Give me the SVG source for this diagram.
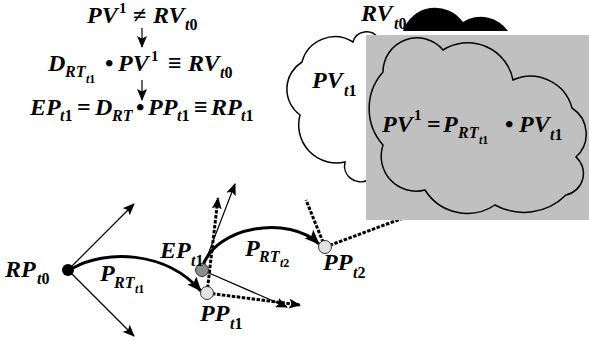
<svg xmlns="http://www.w3.org/2000/svg" width="589" height="341" viewBox="0 0 589 341">
<style>
text{font-family:"Liberation Serif","Times New Roman",serif;font-weight:bold;font-style:italic;font-size:24px;fill:#000}
.s{font-size:16px}
.ss{font-size:12px}
.sup{font-size:15px;font-style:normal}
.op{font-style:normal}
.n{font-style:normal}
.thin{fill:none;stroke:#000;stroke-width:1.2}
.thick{fill:none;stroke:#000;stroke-width:3}
.dash{fill:none;stroke:#000;stroke-width:3;stroke-dasharray:3.5 1.5}
.cloud{stroke:#000;stroke-width:1.5}
</style>
<defs>
<marker id="ah" markerUnits="userSpaceOnUse" markerWidth="12" markerHeight="10" refX="11" refY="5" orient="auto">
<path d="M0,0 L12,5 L0,10 L2.5,5 z" fill="#000"/>
</marker>
<marker id="ahL" markerUnits="userSpaceOnUse" markerWidth="15" markerHeight="12" refX="14" refY="6" orient="auto">
<path d="M0,0 L15,6 L0,12 L3,6 z" fill="#000"/>
</marker>
</defs>

<g id="formula-1">
<text x="87" y="23">PV</text><text class="sup" x="119" y="13">1</text><text class="op" x="133" y="23">≠</text><text x="153" y="23">RV</text><text class="s" x="185" y="30">t<tspan class="n">0</tspan></text>
</g>
<g id="formula-2">
<text x="48" y="71">D</text><text class="s" x="65" y="77">RT</text><text class="ss" x="86" y="83">t<tspan class="n">1</tspan></text><text class="op" x="105" y="71">•</text><text x="118" y="71">PV</text><text class="sup" x="151" y="61">1</text><text class="op" x="168" y="71">≡</text><text x="188" y="71">RV</text><text class="s" x="220" y="78">t<tspan class="n">0</tspan></text>
</g>
<g id="formula-3">
<text x="30" y="115">EP</text><text class="s" x="60" y="121">t<tspan class="n">1</tspan></text><text class="op" x="77" y="115">=</text><text x="95" y="115">D</text><text class="s" x="112" y="121">RT</text><text class="op" x="136" y="115">•</text><text x="148" y="115">PP</text><text class="s" x="177" y="121">t<tspan class="n">1</tspan></text><text class="op" x="194" y="115">≡</text><text x="211" y="115">RP</text><text class="s" x="241" y="121">t<tspan class="n">1</tspan></text>
</g>

<g id="rv-cloud">
<path d="M403,31 A34 34 0 0 1 463,22 A33 33 0 0 1 508,31 Z" fill="#000"/>
<text x="361" y="21">RV</text><text class="s" x="394" y="29">t<tspan class="n">0</tspan></text>
</g>

<g id="pv-t1-cloud">
<path class="cloud" fill="#fff" d="M368,180 A16 16 0 0 1 345,162 A38 38 0 0 1 300,115 A32 32 0 0 1 302,62 A34 34 0 0 1 353,42 A14 14 0 0 1 378,38 L400,100 L375,178 Z"/>
<text x="312" y="88">PV</text><text class="s" x="344" y="96">t<tspan class="n">1</tspan></text>
</g>

<g id="connectors">
<line class="thin" x1="142" y1="28" x2="142" y2="47" marker-end="url(#ah)"/>
<line class="thin" x1="142" y1="80" x2="142" y2="100" marker-end="url(#ah)"/>
<line class="thin" x1="68" y1="270" x2="134" y2="204" marker-end="url(#ah)"/>
<line class="thin" x1="68" y1="270" x2="134" y2="336" marker-end="url(#ah)"/>
<path class="thick" d="M73,268 C105,250 165,250 201,291" marker-end="url(#ahL)"/>
<line class="thin" x1="202" y1="270" x2="235" y2="184" marker-end="url(#ah)"/>
<line class="thin" x1="202" y1="270" x2="287" y2="307" marker-end="url(#ah)"/>
<line class="dash" x1="207" y1="293" x2="218" y2="198" marker-end="url(#ah)"/>
<line class="dash" x1="207" y1="293" x2="300" y2="305" marker-end="url(#ah)"/>
<path class="thick" d="M202,268 C215,225 290,215 319,244" marker-end="url(#ahL)"/>
<line class="dash" x1="325" y1="247" x2="306" y2="200"/>
<line class="dash" x1="325" y1="247" x2="425" y2="210"/>
</g>

<g id="rp-t0">
<circle cx="68" cy="270" r="6" fill="#000"/>
<text x="5" y="277">RP</text><text class="s" x="37" y="284">t<tspan class="n">0</tspan></text>
</g>
<g id="label-prt1">
<text x="100" y="281">P</text><text class="s" x="114" y="288">RT</text><text class="ss" x="135" y="293">t<tspan class="n">1</tspan></text>
</g>
<g id="ep-t1">
<circle cx="202" cy="270" r="6.5" fill="#8c8c8c" stroke="#333" stroke-width="1"/>
<text x="160" y="258">EP</text><text class="s" x="191" y="266">t<tspan class="n">1</tspan></text>
</g>
<g id="pp-t1">
<circle cx="207" cy="293" r="6.5" fill="#e2e2e2" stroke="#333" stroke-width="1"/>
<text x="200" y="321">PP</text><text class="s" x="230" y="329">t<tspan class="n">1</tspan></text>
</g>
<g id="label-prt2">
<text x="245" y="256">P</text><text class="s" x="259" y="262">RT</text><text class="ss" x="280" y="267">t<tspan class="n">2</tspan></text>
</g>
<g id="pp-t2">
<circle cx="325" cy="247" r="6.5" fill="#e2e2e2" stroke="#333" stroke-width="1"/>
<text x="323" y="270">PP</text><text class="s" x="353" y="278">t<tspan class="n">2</tspan></text>
</g>

<g id="pv1-cloud">
<rect x="366" y="35" width="223" height="185" fill="#c0c0c0"/>
<path class="cloud" fill="#c0c0c0" d="M383,72 A34 34 0 0 1 443,50 A46 46 0 0 1 513,80 A43 43 0 0 1 572,108 A31 31 0 0 1 576,157 A22 22 0 0 1 566,195 A60 60 0 0 1 495,205 A50 50 0 0 1 425,190 A35 35 0 0 1 383,145 A55 55 0 0 1 383,72 Z"/>
<text x="382" y="132">PV</text><text class="sup" x="414" y="120">1</text><text class="op" x="427" y="132">=</text><text x="443" y="132">P</text><text class="s" x="458" y="138">RT</text><text class="ss" x="479" y="144">t<tspan class="n">1</tspan></text><text class="op" x="505" y="132">•</text><text x="519" y="132">PV</text><text class="s" x="550" y="140">t<tspan class="n">1</tspan></text>
</g>
</svg>
